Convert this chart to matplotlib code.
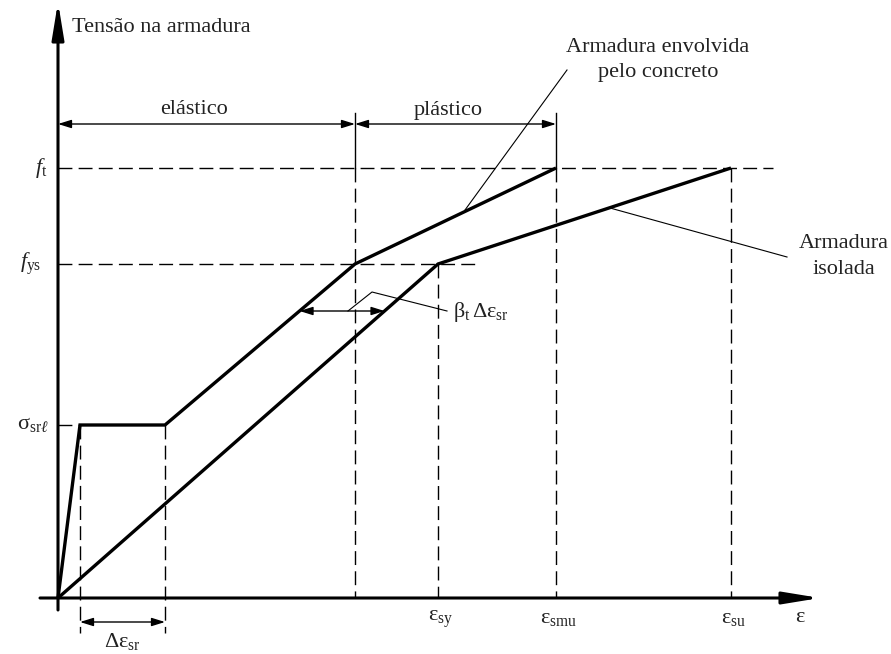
import numpy as np
import matplotlib
matplotlib.use("Agg")
import matplotlib.pyplot as plt

plt.rcParams["font.family"] = ["Liberation Serif", "DejaVu Serif"]
plt.rcParams["mathtext.fontset"] = "custom"
plt.rcParams["mathtext.rm"] = "Liberation Serif"
plt.rcParams["mathtext.it"] = "Liberation Serif:italic"
plt.rcParams["mathtext.bf"] = "Liberation Serif:bold"

# Stress-strain diagram of a reinforcing bar (schematic units)
eps_embedded = [0.0, 0.22, 1.07, 2.97, 4.98]   # bar embedded in concrete
sig_embedded = [0.0, 173.0, 173.0, 334.0, 430.0]
eps_isolated = [0.0, 3.80, 6.73]               # bare bar
sig_isolated = [0.0, 334.0, 430.0]

f_t = 430.0
f_ys = 334.0
sigma_srl = 173.0
eps_cr = 0.22
eps_sr_end = 1.07
eps_y_emb = 2.97
eps_sy = 3.80
eps_smu = 4.98
eps_su = 6.73

TXT = "#222222"
FS = 16

fig = plt.figure(figsize=(8.91, 6.54), dpi=100)
ax = fig.add_axes([0, 0, 1, 1])
ax.set_xlim(-0.58, 8.33)
ax.set_ylim(-56, 598)
ax.axis("off")

# axes with arrows
axis_arrow = dict(arrowstyle="-|>,head_length=1.1,head_width=0.18", lw=2.2,
                  color="black", shrinkA=0, shrinkB=0, mutation_scale=20)
ax.annotate("", xy=(0, 596), xytext=(0, -12), arrowprops=axis_arrow)
ax.annotate("", xy=(7.62, 0), xytext=(-0.18, 0), arrowprops=axis_arrow)

# curves
ax.plot(eps_embedded, sig_embedded, color="black", lw=2.4, solid_joinstyle="miter",
        solid_capstyle="butt", zorder=5)
ax.plot(eps_isolated, sig_isolated, color="black", lw=2.4, solid_joinstyle="miter",
        solid_capstyle="butt", zorder=5)

dash = dict(color="black", lw=1.0, dashes=(10, 4.5))
# horizontal reference levels
ax.plot([0, 7.15], [f_t, f_t], **dash)
ax.plot([0, 4.22], [f_ys, f_ys], **dash)
ax.plot([0, eps_cr], [sigma_srl, sigma_srl], **dash)
# vertical reference lines
for e in (eps_y_emb, eps_smu):
    ax.plot([e, e], [485, f_t], color="black", lw=1.0)
    ax.plot([e, e], [f_t, 0], **dash)
ax.plot([eps_sy, eps_sy], [f_ys, 0], **dash)
ax.plot([eps_su, eps_su], [f_t, 0], **dash)
ax.plot([eps_cr, eps_cr], [sigma_srl, -35], **dash)
ax.plot([eps_sr_end, eps_sr_end], [sigma_srl, -35], **dash)

# dimension lines
dim = dict(arrowstyle="<|-|>,head_length=0.8,head_width=0.25", lw=1.0,
           color="black", shrinkA=0, shrinkB=0, mutation_scale=10)
ax.annotate("", xy=(0, 474), xytext=(eps_y_emb, 474), arrowprops=dim)
ax.annotate("", xy=(eps_y_emb, 474), xytext=(eps_smu, 474), arrowprops=dim)
ax.annotate("", xy=(eps_cr, -24), xytext=(eps_sr_end, -24), arrowprops=dim)
sig_b = 287.0
x_left = np.interp(sig_b, sig_embedded[2:], eps_embedded[2:])
x_right = np.interp(sig_b, sig_isolated, eps_isolated)
ax.annotate("", xy=(x_left, sig_b), xytext=(x_right, sig_b), arrowprops=dim)

# leader lines
ax.plot([2.90, 3.14, 3.89], [287, 306, 287], color="black", lw=0.8)
ax.plot([5.09, 4.07], [528, 388], color="black", lw=0.8)
ax.plot([7.29, 5.52], [341, 390], color="black", lw=0.8)

# texts
ax.text(0.14, 570, "Tensão na armadura", fontsize=FS, color=TXT, ha="left", va="center")
ax.text(1.36, 489, "elástico", fontsize=FS, color=TXT, ha="center", va="center")
ax.text(3.90, 488, "plástico", fontsize=FS, color=TXT, ha="center", va="center")
ax.text(6.00, 550, "Armadura envolvida", fontsize=FS, color=TXT, ha="center", va="center")
ax.text(6.00, 526, "pelo concreto", fontsize=FS, color=TXT, ha="center", va="center")
ax.text(7.86, 355, "Armadura", fontsize=FS, color=TXT, ha="center", va="center")
ax.text(7.86, 328, "isolada", fontsize=FS, color=TXT, ha="center", va="center")

ax.text(-0.11, f_t, r"$\mathit{f}_{\mathrm{t}}$", fontsize=FS, color=TXT, ha="right", va="center")
ax.text(-0.17, f_ys, r"$\mathit{f}_{\mathrm{ys}}$", fontsize=FS, color=TXT, ha="right", va="center")
ax.text(-0.09, sigma_srl, r"$\mathrm{σ}_{\mathrm{sr}ℓ}$", fontsize=FS, color=TXT, ha="right", va="center")

ax.text(eps_sy + 0.03, -21, r"$\mathrm{ε}_{\mathrm{sy}}$", fontsize=FS, color=TXT, ha="center", va="center")
ax.text(eps_smu + 0.03, -21, r"$\mathrm{ε}_{\mathrm{smu}}$", fontsize=FS, color=TXT, ha="center", va="center")
ax.text(eps_su + 0.03, -21, r"$\mathrm{ε}_{\mathrm{su}}$", fontsize=FS, color=TXT, ha="center", va="center")
ax.text(7.42, -19, r"$\mathrm{ε}$", fontsize=FS, color=TXT, ha="center", va="center")
ax.text((eps_cr + eps_sr_end) / 2, -44, r"$\mathrm{Δε}_{\mathrm{sr}}$", fontsize=FS, color=TXT,
        ha="center", va="center")
ax.text(3.95, 286, r"$\mathrm{β}_{\mathrm{t}}\,\mathrm{Δε}_{\mathrm{sr}}$", fontsize=FS, color=TXT,
        ha="left", va="center")

fig.savefig("out.png", dpi=100)
